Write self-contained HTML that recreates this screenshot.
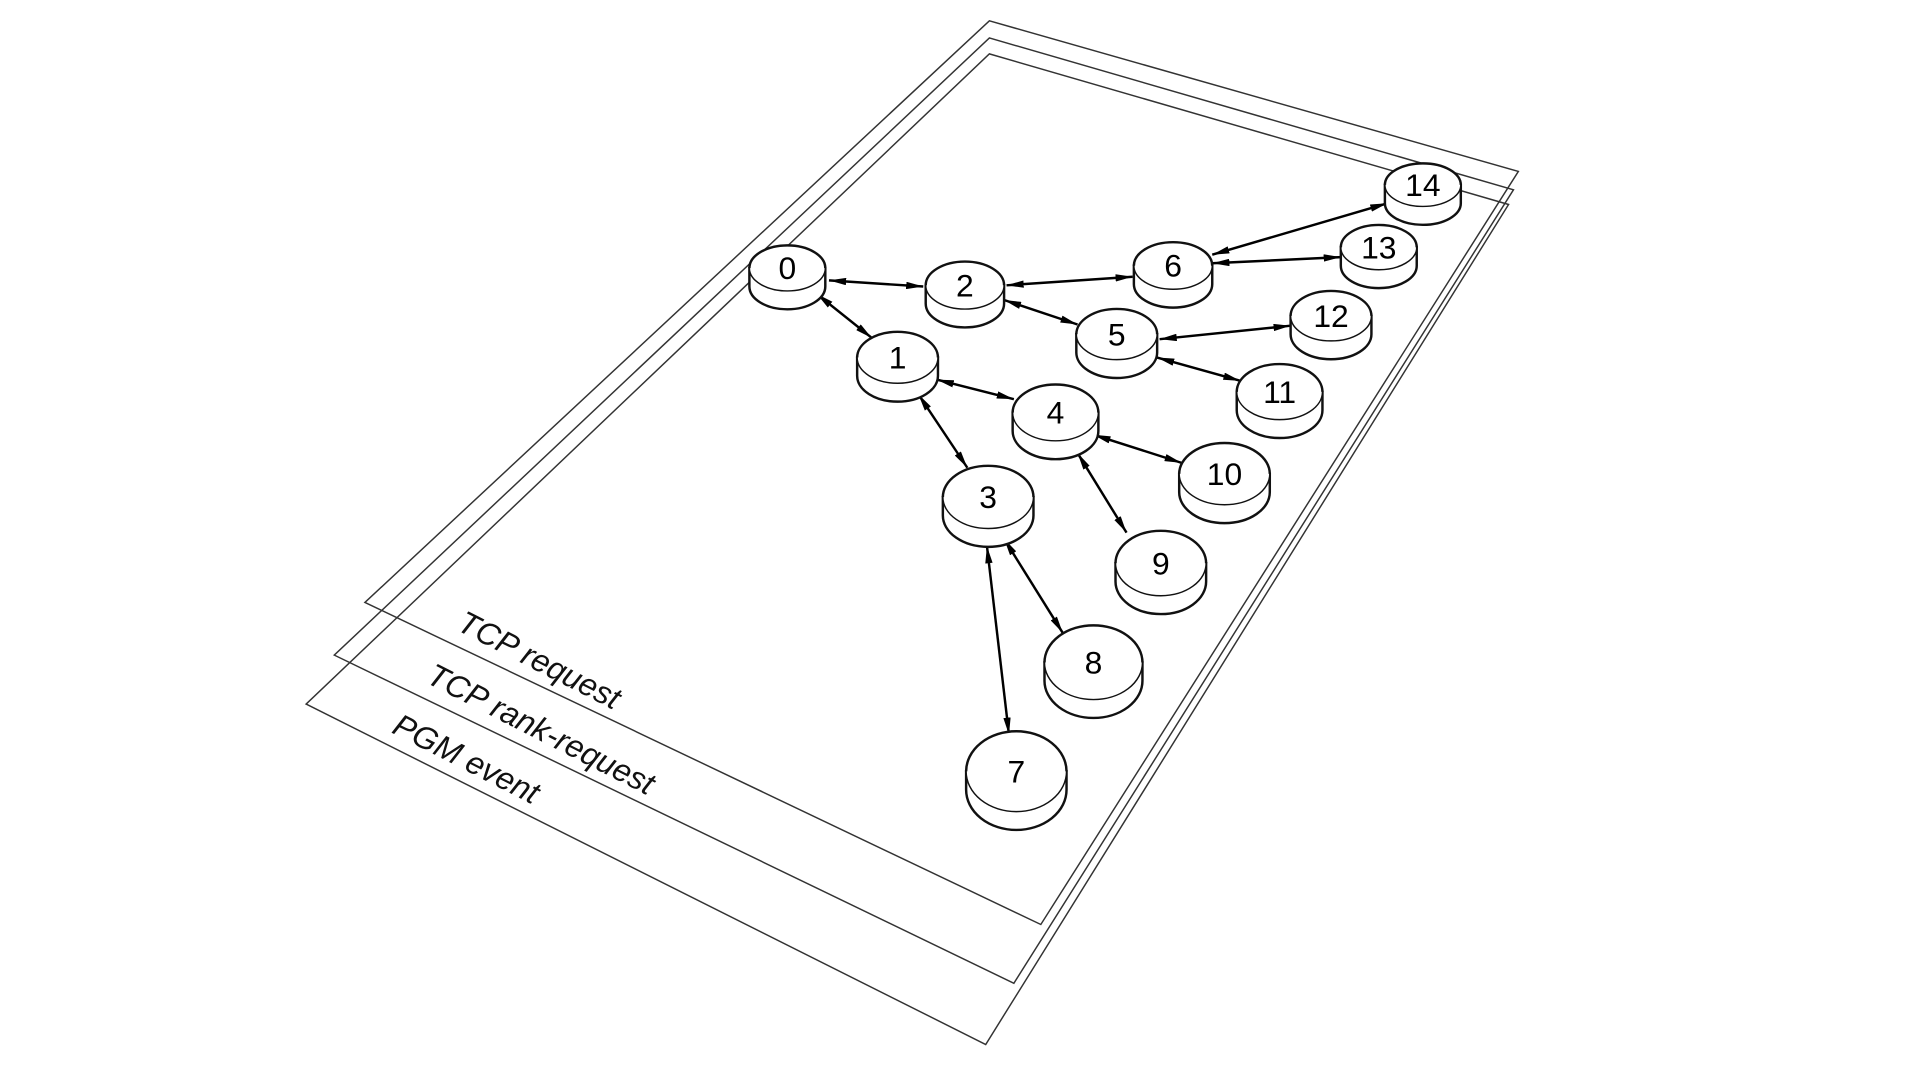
<!DOCTYPE html>
<html><head><meta charset="utf-8"><style>html,body{margin:0;padding:0;background:#fff}svg{display:block}</style></head><body>
<svg width="1920" height="1080" viewBox="0 0 1568 882" xmlns="http://www.w3.org/2000/svg">
<defs>
<marker id="a" viewBox="0 0 14 6" refX="14" refY="3" markerWidth="14" markerHeight="6" markerUnits="userSpaceOnUse" orient="auto-start-reverse"><path d="M0,0 L14,3 L0,6 Z" fill="#000"/></marker>
</defs>
<g fill="none" stroke="#333" stroke-width="1.2">
<polygon points="808,17 1240,140 850,755 298,492"/>
<polygon points="808,31 1236,155 828,803 273,535"/>
<polygon points="808,44 1232,167 805,853 250,575"/>
</g>
<g font-family="Liberation Sans, sans-serif" font-size="26" font-style="italic" fill="#111">
<text transform="translate(372,514) rotate(27)">TCP request</text>
<text transform="translate(347,557) rotate(27)">TCP rank-request</text>
<text transform="translate(319,598) rotate(27)">PGM event</text>
</g>
<g stroke="#000" stroke-width="2" marker-start="url(#a)" marker-end="url(#a)">
<line x1="677" y1="229" x2="754" y2="234"/>
<line x1="667" y1="240" x2="712" y2="276"/>
<line x1="822" y1="233" x2="925" y2="226"/>
<line x1="820" y1="245" x2="880" y2="265"/>
<line x1="990" y1="208" x2="1133" y2="166"/>
<line x1="990" y1="215" x2="1095" y2="210"/>
<line x1="947" y1="277" x2="1054" y2="266"/>
<line x1="945" y1="292" x2="1013" y2="311"/>
<line x1="765" y1="310" x2="828" y2="326"/>
<line x1="750" y1="322" x2="790" y2="382"/>
<line x1="893" y1="355" x2="965" y2="378"/>
<line x1="880" y1="370" x2="920" y2="435"/>
<line x1="820" y1="440" x2="868" y2="517"/>
<line x1="806" y1="446" x2="824" y2="600"/>
</g>
<g stroke="#111" fill="#fff">
<path stroke-width="2" d="M612,219 v15 a31,18.6 0 0 0 62,0 v-15 Z"/><ellipse stroke-width="1.2" cx="643" cy="219" rx="31" ry="18.6"/><path fill="none" stroke-width="2" d="M612,219 a31,18.6 0 0 1 62,0"/>
<path stroke-width="2" d="M756,233 v15 a32,19.4 0 0 0 64,0 v-15 Z"/><ellipse stroke-width="1.2" cx="788" cy="233" rx="32" ry="19.4"/><path fill="none" stroke-width="2" d="M756,233 a32,19.4 0 0 1 64,0"/>
<path stroke-width="2" d="M926,217 v15 a32,19.2 0 0 0 64,0 v-15 Z"/><ellipse stroke-width="1.2" cx="958" cy="217" rx="32" ry="19.2"/><path fill="none" stroke-width="2" d="M926,217 a32,19.2 0 0 1 64,0"/>
<path stroke-width="2" d="M1131,151 v15 a31,17.6 0 0 0 62,0 v-15 Z"/><ellipse stroke-width="1.2" cx="1162" cy="151" rx="31" ry="17.6"/><path fill="none" stroke-width="2" d="M1131,151 a31,17.6 0 0 1 62,0"/>
<path stroke-width="2" d="M1095,202 v15 a31,18.3 0 0 0 62,0 v-15 Z"/><ellipse stroke-width="1.2" cx="1126" cy="202" rx="31" ry="18.3"/><path fill="none" stroke-width="2" d="M1095,202 a31,18.3 0 0 1 62,0"/>
<path stroke-width="2" d="M1054,258 v15 a33,20.4 0 0 0 66,0 v-15 Z"/><ellipse stroke-width="1.2" cx="1087" cy="258" rx="33" ry="20.4"/><path fill="none" stroke-width="2" d="M1054,258 a33,20.4 0 0 1 66,0"/>
<path stroke-width="2" d="M879,273 v15 a33,20.7 0 0 0 66,0 v-15 Z"/><ellipse stroke-width="1.2" cx="912" cy="273" rx="33" ry="20.7"/><path fill="none" stroke-width="2" d="M879,273 a33,20.7 0 0 1 66,0"/>
<path stroke-width="2" d="M1010,320 v15 a35,22.7 0 0 0 70,0 v-15 Z"/><ellipse stroke-width="1.2" cx="1045" cy="320" rx="35" ry="22.7"/><path fill="none" stroke-width="2" d="M1010,320 a35,22.7 0 0 1 70,0"/>
<path stroke-width="2" d="M700,292 v15 a33,21 0 0 0 66,0 v-15 Z"/><ellipse stroke-width="1.2" cx="733" cy="292" rx="33" ry="21"/><path fill="none" stroke-width="2" d="M700,292 a33,21 0 0 1 66,0"/>
<path stroke-width="2" d="M827,337 v15 a35,23 0 0 0 70,0 v-15 Z"/><ellipse stroke-width="1.2" cx="862" cy="337" rx="35" ry="23"/><path fill="none" stroke-width="2" d="M827,337 a35,23 0 0 1 70,0"/>
<path stroke-width="2" d="M963,387 v15 a37,25.2 0 0 0 74,0 v-15 Z"/><ellipse stroke-width="1.2" cx="1000" cy="387" rx="37" ry="25.2"/><path fill="none" stroke-width="2" d="M963,387 a37,25.2 0 0 1 74,0"/>
<path stroke-width="2" d="M770,406 v15 a37,25.6 0 0 0 74,0 v-15 Z"/><ellipse stroke-width="1.2" cx="807" cy="406" rx="37" ry="25.6"/><path fill="none" stroke-width="2" d="M770,406 a37,25.6 0 0 1 74,0"/>
<path stroke-width="2" d="M911,460 v15 a37,26.5 0 0 0 74,0 v-15 Z"/><ellipse stroke-width="1.2" cx="948" cy="460" rx="37" ry="26.5"/><path fill="none" stroke-width="2" d="M911,460 a37,26.5 0 0 1 74,0"/>
<path stroke-width="2" d="M853,541 v15 a40,30.3 0 0 0 80,0 v-15 Z"/><ellipse stroke-width="1.2" cx="893" cy="541" rx="40" ry="30.3"/><path fill="none" stroke-width="2" d="M853,541 a40,30.3 0 0 1 80,0"/>
<path stroke-width="2" d="M789,630 v15 a41,32.8 0 0 0 82,0 v-15 Z"/><ellipse stroke-width="1.2" cx="830" cy="630" rx="41" ry="32.8"/><path fill="none" stroke-width="2" d="M789,630 a41,32.8 0 0 1 82,0"/>
</g>
<g font-family="Liberation Sans, sans-serif" font-size="26" fill="#000" text-anchor="middle">
<text x="643" y="228">0</text>
<text x="788" y="242">2</text>
<text x="958" y="226">6</text>
<text x="1162" y="160">14</text>
<text x="1126" y="211">13</text>
<text x="1087" y="267">12</text>
<text x="912" y="282">5</text>
<text x="1045" y="329">11</text>
<text x="733" y="301">1</text>
<text x="862" y="346">4</text>
<text x="1000" y="396">10</text>
<text x="807" y="415">3</text>
<text x="948" y="469">9</text>
<text x="893" y="550">8</text>
<text x="830" y="639">7</text>
</g>
</svg>
</body></html>
